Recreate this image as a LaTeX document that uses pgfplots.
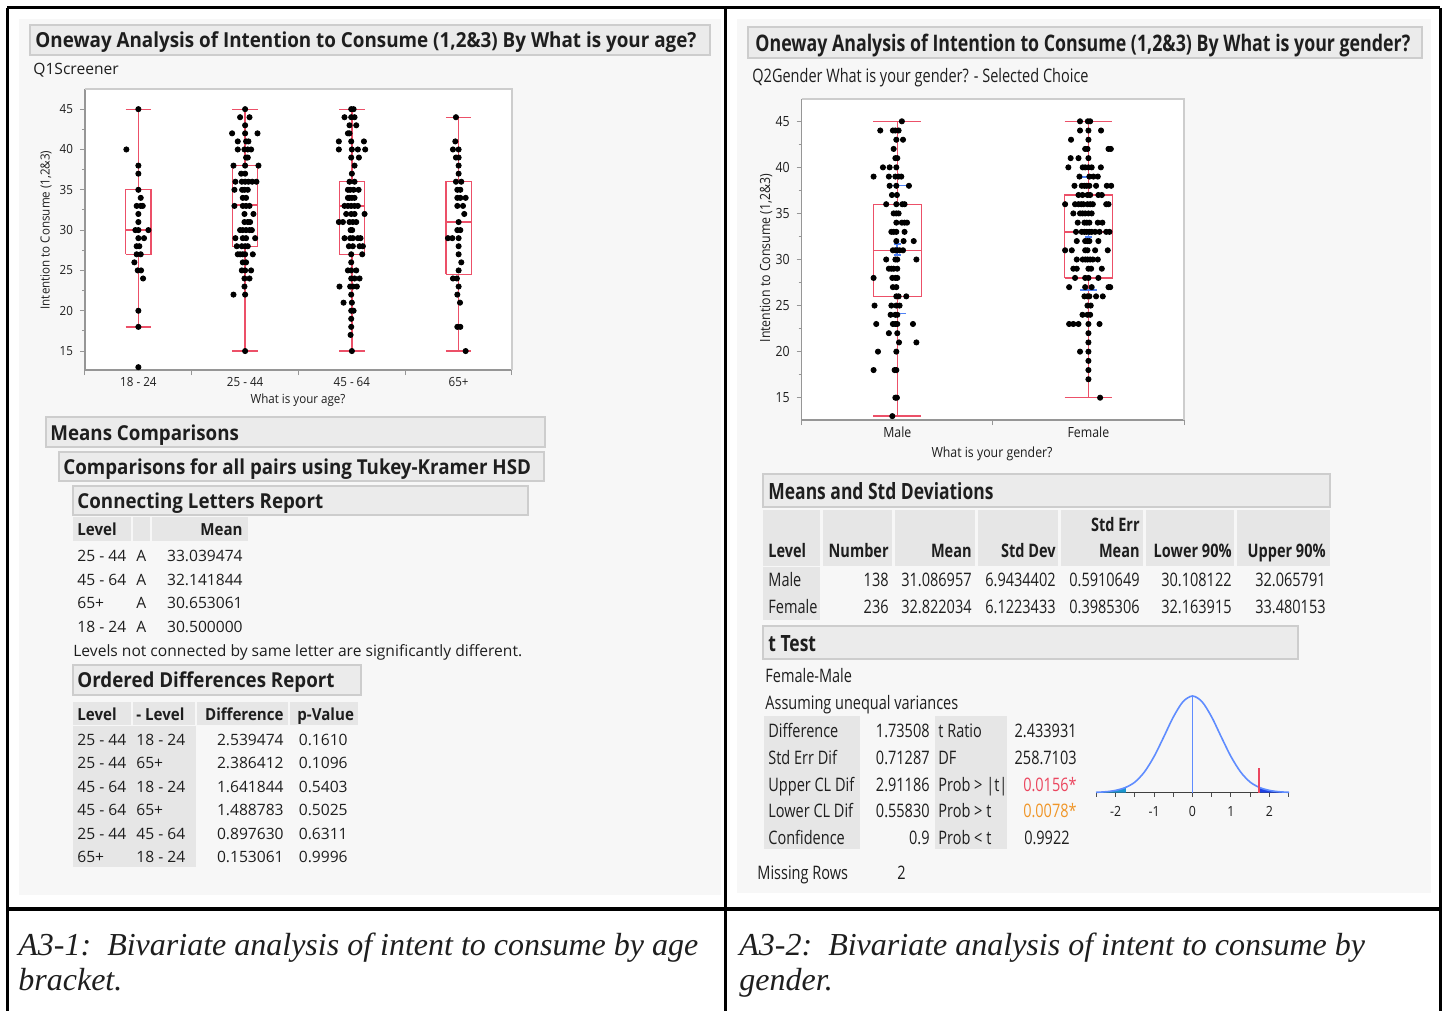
\documentclass[border=0pt]{standalone}
\usepackage{fontspec}
\usepackage{pgfplots}
\pgfplotsset{compat=1.18}
\setmainfont{Open Sans}
\newfontfamily\Lbf[FakeStretch=0.91]{Open Sans}
\newfontfamily\Rff[FakeStretch=0.78]{Open Sans}
\newfontfamily\Plf[FakeStretch=0.92]{Open Sans}
\newfontfamily\Prf[FakeStretch=0.88]{Open Sans}
\newfontfamily\Cff{Liberation Serif}
\definecolor{panel}{RGB}{247,247,247}
\definecolor{hdr}{RGB}{235,235,235}
\definecolor{hdrline}{RGB}{205,205,205}
\definecolor{cell}{RGB}{230,230,230}
\definecolor{boxred}{RGB}{236,80,104}
\definecolor{mblue}{RGB}{80,130,245}
\definecolor{curve}{RGB}{95,140,255}
\definecolor{ltail}{RGB}{25,150,205}
\definecolor{rtail}{RGB}{30,65,230}
\definecolor{sigred}{RGB}{235,70,95}
\definecolor{sigor}{RGB}{240,150,40}
\definecolor{axgray}{RGB}{150,150,150}
\definecolor{frgray}{RGB}{205,205,205}
\definecolor{txt}{RGB}{30,30,30}
\newcommand\lbody{\fontsize{7.8}{9}\selectfont}
\newcommand\lhead{\Lbf\bfseries\fontsize{10.3}{12}\selectfont}
\newcommand\lth{\Lbf\bfseries\fontsize{8.3}{10}\selectfont}
\newcommand\ltitle{\Lbf\bfseries\fontsize{10.35}{12}\selectfont}
\newcommand\rbody{\Rff\fontsize{9.3}{11}\selectfont}
\newcommand\rhead{\Rff\bfseries\fontsize{11.2}{13}\selectfont}
\newcommand\rth{\Rff\bfseries\fontsize{9.3}{11}\selectfont}
\newcommand\rtitle{\Rff\bfseries\fontsize{11.4}{13}\selectfont}
\newcommand\plfont{\Plf\fontsize{6.3}{7.5}\selectfont}
\newcommand\prfont{\Prf\fontsize{7}{8.5}\selectfont}
\newcommand\capt{\Cff\itshape\fontsize{16}{19}\selectfont}
\tikzset{t/.style={inner sep=0pt, anchor=base west, text=txt},
         tr/.style={inner sep=0pt, anchor=base east, text=txt},
         hbox/.style={fill=hdr, draw=hdrline, line width=0.6pt}}
\pgfplotsset{
  jmp/.style={scale only axis, clip=false, axis line style={draw=none},
    axis background/.style={fill=white},
    xtick pos=bottom, ytick pos=left,
    tick align=outside, major tick length=2.5pt, minor tick length=1.5pt,
    tick style={axgray, line width=0.5pt},
    /pgf/number format/assume math mode=true,
    extra x tick style={major tick length=0pt}},
}
% box: #1 left, #2 centre, #3 right, #4 lower whisker, #5 Q1, #6 median, #7 Q3, #8 upper whisker
\newcommand\jbox[8]{%
\addplot[boxred, line width=0.65pt, line join=miter] coordinates {(#1,#5)(#3,#5)(#3,#7)(#1,#7)(#1,#5)};
\addplot[boxred, line width=0.65pt] coordinates {(#1,#6)(#3,#6)};
\addplot[boxred, line width=0.65pt] coordinates {(#2,#7)(#2,#8)};
\addplot[boxred, line width=0.65pt] coordinates {(#2,#5)(#2,#4)};
\addplot[boxred, line width=0.65pt] coordinates {(#1,#8)(#3,#8)};
\addplot[boxred, line width=0.65pt] coordinates {(#1,#4)(#3,#4)};
}
\begin{document}
\begin{tikzpicture}[x=0.5pt,y=-0.5pt]
\path[use as bounding box] (0,0) rectangle (1445,1011);
\fill[panel] (19,19) rectangle (721,895);
\fill[panel] (737,19) rectangle (1431,893);
% ---------------- LEFT PANEL ----------------
\draw[hbox] (30,25) rectangle (710,55);
\node[t] at (35,47.3) {\ltitle Oneway Analysis of Intention to Consume (1,2\&3) By What is your age?};
\node[t] at (33,74.5) {\lbody Q1Screener};
\coordinate (LP) at (85,370);
\begin{axis}[jmp, at={(LP)}, anchor=south west, width=213.5pt, height=140.5pt,
  xmin=0, xmax=4, ymin=12.65, ymax=47.5,
  xtick={0,1,2,3,4}, xticklabels={},
  extra x ticks={0.5,1.5,2.5,3.5}, extra x tick labels={18 - 24,25 - 44,45 - 64,65+},
  ytick={15,20,25,30,35,40,45}, minor y tick num=1,
  tick label style={font=\plfont, text=txt}]
\draw[axgray, line width=0.6pt] (rel axis cs:0,1) -- (rel axis cs:0,0) -- (rel axis cs:1,0);
\draw[frgray, line width=0.6pt] (rel axis cs:0,1) -- (rel axis cs:1,1) -- (rel axis cs:1,0);
\jbox{0.381}{0.5}{0.619}{18}{27}{30}{35}{45}
\jbox{1.381}{1.5}{1.619}{15}{28}{33.1}{38}{45}
\jbox{2.381}{2.5}{2.619}{15}{27}{33}{36}{45}
\jbox{3.381}{3.5}{3.619}{15}{24.5}{31}{36}{44}
\addplot[only marks, mark=*, mark size=1.3pt, black] coordinates {
(0.5,45)(0.3875,40)(0.5,38)(0.5,37)(0.5,35)(0.522,34)(0.484,33)(0.522,33)(0.541,33)(0.5,32)(0.5,31)(0.472,30)(0.5,30)(0.594,30)(0.5,29)(0.553,29)(0.484,28)(0.509,28)(0.484,27)(0.522,27)(0.4625,26)(0.494,25)(0.525,25)(0.544,24)(0.5,20)(0.5,18)(0.5,13)
(1.5,45)(1.453,44)(1.541,44)(1.5,43)(1.378,42)(1.5,42)(1.616,42)(1.431,41)(1.509,41)(1.531,41)(1.431,40)(1.494,40)(1.525,40)(1.556,40)(1.509,39)(1.525,39)(1.391,38)(1.5,38)(1.625,38)(1.463,37)(1.5,37)
(1.409,36)(1.469,36)(1.5,36)(1.531,36)(1.566,36)(1.606,36)(1.4,35)(1.472,35)(1.494,35)(1.525,35)(1.478,34)(1.509,34)(1.4,33)(1.478,33)(1.509,33)(1.541,33)(1.494,32)(1.578,32)(1.494,31)(1.525,31)(1.547,31)
(1.453,30)(1.478,30)(1.509,30)(1.541,30)(1.563,30)(1.409,29)(1.478,29)(1.509,29)(1.594,29)(1.422,28)(1.469,28)(1.5,28)(1.525,28)(1.431,27)(1.453,27)(1.478,27)(1.5,27)(1.572,27)(1.478,26)(1.509,26)
(1.469,25)(1.5,25)(1.556,25)(1.494,24)(1.541,24)(1.494,23)(1.391,22)(1.5,22)(1.5,15)
(2.494,45)(2.516,45)(2.431,44)(2.494,44)(2.525,44)(2.478,43)(2.541,43)(2.463,42)(2.478,42)(2.378,41)(2.494,41)(2.613,41)(2.378,40)(2.5,40)(2.556,40)(2.625,40)(2.494,39)(2.566,39)(2.525,38)(2.5,37)(2.478,36)(2.525,36)
(2.463,35)(2.484,35)(2.516,35)(2.563,35)(2.463,34)(2.478,34)(2.5,34)(2.525,34)(2.431,33)(2.463,33)(2.494,33)(2.525,33)(2.556,33)(2.447,32)(2.494,32)(2.525,32)(2.619,32)(2.378,31)(2.416,31)(2.478,31)(2.509,31)(2.541,31)
(2.488,30)(2.503,30)(2.431,29)(2.484,29)(2.509,29)(2.556,29)(2.581,29)(2.472,28)(2.509,28)(2.572,28)(2.603,28)(2.494,27)(2.597,27)(2.494,26)(2.463,25)(2.494,25)(2.541,25)(2.494,24)(2.525,24)(2.572,24)
(2.384,23)(2.484,23)(2.509,23)(2.547,23)(2.494,22)(2.422,21)(2.5,21)(2.494,20)(2.516,20)(2.494,19)(2.494,18)(2.488,17)(2.5,15)
(3.475,44)(3.469,41)(3.447,40)(3.5,40)(3.475,39)(3.5,39)(3.5,38)(3.5,37)(3.475,36)(3.525,36)(3.488,35)(3.516,35)(3.488,34)(3.516,34)(3.566,34)(3.488,33)(3.541,33)(3.553,32)(3.5,31)(3.488,30)(3.516,30)
(3.4,29)(3.441,29)(3.5,29)(3.5,28)(3.5,27)(3.525,26)(3.5,25)(3.447,24)(3.484,24)(3.5,23)(3.488,22)(3.513,21)(3.488,18)(3.516,18)(3.566,15)
};
\end{axis}
\node[rotate=90, inner sep=0pt, text=txt] at (46,230) {\plfont Intention to Consume (1,2\&3)};
\node[inner sep=0pt, text=txt] at (298,400) {\plfont What is your age?};
\draw[hbox] (46,417) rectangle (545,447);
\node[t] at (50,440.3) {\lhead Means Comparisons};
\draw[hbox] (59,452) rectangle (544,481);
\node[t] at (63,474.3) {\lhead Comparisons for all pairs using Tukey-Kramer HSD};
\draw[hbox] (73,486) rectangle (528,515);
\node[t] at (77,508.3) {\lhead Connecting Letters Report};
\fill[cell] (73,517) rectangle (131,541);
\fill[cell] (133,517) rectangle (150,541);
\fill[cell] (152,517) rectangle (248,541);
\node[t] at (77,535.5) {\lth Level};
\node[tr] at (243,535.5) {\lth Mean};
\node[t] at (77,561.5) {\lbody 25 - 44};\node[t] at (136,561.5) {\lbody A};\node[tr] at (243,561.5) {\lbody 33.039474};
\node[t] at (77,585) {\lbody 45 - 64};\node[t] at (136,585) {\lbody A};\node[tr] at (243,585) {\lbody 32.141844};
\node[t] at (77,608.5) {\lbody 65+};\node[t] at (136,608.5) {\lbody A};\node[tr] at (243,608.5) {\lbody 30.653061};
\node[t] at (77,632) {\lbody 18 - 24};\node[t] at (136,632) {\lbody A};\node[tr] at (243,632) {\lbody 30.500000};
\node[t] at (73,656.5) {\lbody Levels not connected by same letter are significantly different.};
\draw[hbox] (73,665) rectangle (361,695);
\node[t] at (77,687.3) {\lhead Ordered Differences Report};
\fill[cell] (73,702) rectangle (131,725);
\fill[cell] (133,702) rectangle (195,725);
\fill[cell] (197,702) rectangle (288,725);
\fill[cell] (290,702) rectangle (358,725);
\fill[cell] (73,726) rectangle (196,867);
\node[t] at (77,720) {\lth Level};
\node[t] at (136,720) {\lth - Level};
\node[tr] at (284,720) {\lth Difference};
\node[t] at (297,720) {\lth p-Value};
\foreach \y/\a/\b/\d/\p in {745.5/25 - 44/18 - 24/2.539474/0.1610, 768.5/25 - 44/65+/2.386412/0.1096, 792.5/45 - 64/18 - 24/1.641844/0.5403, 815.5/45 - 64/65+/1.488783/0.5025, 839.5/25 - 44/45 - 64/0.897630/0.6311, 862.5/65+/18 - 24/0.153061/0.9996}{
  \node[t] at (77,\y) {\lbody \a};
  \node[t] at (136,\y) {\lbody \b};
  \node[tr] at (284,\y) {\lbody \d};
  \node[tr] at (348,\y) {\lbody \p};
}
% ---------------- RIGHT PANEL ----------------
\draw[hbox] (748,27) rectangle (1422,58);
\node[t] at (755,51.2) {\rtitle Oneway Analysis of Intention to Consume (1,2\&3) By What is your gender?};
\node[t] at (752,82.6) {\rbody Q2Gender What is your gender? - Selected Choice};
\coordinate (RP) at (801.7,420);
\begin{axis}[jmp, at={(RP)}, anchor=south west, width=191.15pt, height=160.5pt,
  xmin=0, xmax=2, ymin=12.58, ymax=47.42,
  xtick={0,1,2}, xticklabels={},
  extra x ticks={0.5,1.5}, extra x tick labels={Male,Female},
  ytick={15,20,25,30,35,40,45}, minor y tick num=1,
  tick label style={font=\prfont, text=txt}]
\draw[axgray, line width=0.6pt] (rel axis cs:0,1) -- (rel axis cs:0,0) -- (rel axis cs:1,0);
\draw[frgray, line width=0.6pt] (rel axis cs:0,1) -- (rel axis cs:1,1) -- (rel axis cs:1,0);
\jbox{0.375}{0.5}{0.625}{13}{26}{31}{36}{45}
\jbox{1.375}{1.5}{1.625}{15}{28}{33}{37}{45}
\addplot[only marks, mark=*, mark size=1.3pt, black] coordinates {
(0.524,45)(0.411,44)(0.477,44)(0.49,44)(0.507,44)(0.495,43)(0.53,43)(0.481,42)(0.49,41)(0.5,41)(0.425,40)(0.46,40)(0.495,40)(0.376,39)(0.456,39)(0.49,39)(0.507,39)(0.521,39)(0.46,38)(0.495,38)(0.561,38)(0.472,37)(0.498,37)
(0.442,36)(0.495,36)(0.526,36)(0.538,36)(0.481,35)(0.495,35)(0.507,35)(0.495,34)(0.524,34)(0.538,34)(0.551,34)(0.469,33)(0.481,33)(0.495,33)(0.538,33)(0.495,32)(0.533,32)(0.586,32)
(0.477,31)(0.49,31)(0.5,31)(0.512,31)(0.53,31)(0.442,30)(0.49,30)(0.5,30)(0.6,30)(0.456,29)(0.469,29)(0.481,29)(0.5,29)(0.376,28)(0.474,28)(0.49,28)(0.5,28)(0.477,27)(0.495,27)(0.495,26)(0.507,26)(0.547,26)
(0.381,25)(0.469,25)(0.495,25)(0.512,25)(0.465,24)(0.49,24)(0.5,24)(0.39,23)(0.477,23)(0.49,23)(0.5,23)(0.582,23)(0.456,22)(0.5,22)(0.509,21)(0.6,21)(0.399,20)(0.495,20)(0.376,18)(0.486,18)(0.495,18)(0.49,15)(0.498,15)(0.474,13)
(1.456,45)(1.497,45)(1.509,45)(1.456,44)(1.5,44)(1.566,44)(1.409,43)(1.5,43)(1.483,42)(1.495,42)(1.605,42)(1.617,42)(1.407,41)(1.448,41)(1.5,41)(1.395,40)(1.47,40)(1.483,40)(1.5,40)(1.517,40)(1.565,40)
(1.453,39)(1.505,39)(1.526,39)(1.549,39)(1.427,38)(1.465,38)(1.479,38)(1.491,38)(1.505,38)(1.54,38)(1.596,38)(1.619,38)(1.448,37)(1.469,37)(1.495,37)(1.509,37)(1.552,37)(1.57,37)
(1.378,36)(1.43,36)(1.448,36)(1.462,36)(1.474,36)(1.495,36)(1.509,36)(1.523,36)(1.593,36)(1.605,36)(1.421,35)(1.456,35)(1.469,35)(1.483,35)(1.5,35)(1.517,35)(1.444,34)(1.479,34)(1.491,34)(1.505,34)(1.549,34)(1.573,34)
(1.435,33)(1.465,33)(1.479,33)(1.491,33)(1.505,33)(1.517,33)(1.535,33)(1.558,33)(1.593,33)(1.61,33)(1.439,32)(1.483,32)(1.495,32)(1.505,32)(1.552,32)(1.378,31)(1.413,31)(1.483,31)(1.495,31)(1.535,31)(1.601,31)
(1.439,30)(1.47,30)(1.483,30)(1.495,30)(1.509,30)(1.523,30)(1.549,30)(1.421,29)(1.439,29)(1.5,29)(1.514,29)(1.57,29)(1.43,28)(1.483,28)(1.5,28)(1.552,28)(1.399,27)(1.483,27)(1.517,27)(1.605,27)(1.614,27)
(1.479,26)(1.495,26)(1.505,26)(1.54,26)(1.575,26)(1.495,25)(1.512,25)(1.469,24)(1.495,24)(1.509,24)(1.399,23)(1.421,23)(1.448,23)(1.5,23)(1.558,23)(1.5,22)(1.5,21)(1.456,20)(1.5,20)(1.5,19)(1.5,18)(1.5,17)(1.561,15)
};
\addplot[mblue, line width=0.8pt] coordinates {(0.469,38.03)(0.547,38.03)};
\addplot[mblue, line width=0.8pt] coordinates {(0.46,24.14)(0.547,24.14)};
\addplot[mblue, line width=0.8pt] coordinates {(0.481,31.68)(0.521,31.68)};
\addplot[mblue, line width=0.8pt] coordinates {(0.481,30.50)(0.521,30.50)};
\addplot[mblue, line width=0.8pt] coordinates {(0.5,30.50)(0.5,31.68)};
\addplot[mblue, line width=0.8pt] coordinates {(1.456,38.94)(1.535,38.94)};
\addplot[mblue, line width=0.8pt] coordinates {(1.456,26.70)(1.544,26.70)};
\addplot[mblue, line width=0.8pt] coordinates {(1.48,33.22)(1.52,33.22)};
\addplot[mblue, line width=0.8pt] coordinates {(1.48,32.42)(1.52,32.42)};
\addplot[mblue, line width=0.8pt] coordinates {(1.5,32.42)(1.5,33.22)};
\end{axis}
\node[rotate=90, inner sep=0pt, text=txt] at (766,258) {\prfont Intention to Consume (1,2\&3)};
\node[inner sep=0pt, text=txt] at (992,454) {\prfont What is your gender?};
\draw[hbox] (763,474) rectangle (1330,507);
\node[t] at (768,499) {\rhead Means and Std Deviations};
\foreach \a/\b in {763/820, 823/892, 895/975, 978/1058, 1061/1143, 1146/1234, 1237/1330}{\fill[cell] (\a,510) rectangle (\b,566);}
\fill[cell] (763,567) rectangle (820,620);
\node[tr] at (1140,531.7) {\rth Std Err};
\node[t] at (768,557.7) {\rth Level};
\node[tr] at (889,557.7) {\rth Number};
\node[tr] at (972,557.7) {\rth Mean};
\node[tr] at (1056,557.7) {\rth Std Dev};
\node[tr] at (1140,557.7) {\rth Mean};
\node[tr] at (1232,557.7) {\rth Lower 90\%};
\node[tr] at (1326,557.7) {\rth Upper 90\%};
\foreach \y/\l/\n/\m/\s/\e/\lo/\up in {586.6/Male/138/31.086957/6.9434402/0.5910649/30.108122/32.065791, 613.6/Female/236/32.822034/6.1223433/0.3985306/32.163915/33.480153}{
  \node[t] at (768,\y) {\rbody \l};
  \node[tr] at (889,\y) {\rbody \n};
  \node[tr] at (972,\y) {\rbody \m};
  \node[tr] at (1056,\y) {\rbody \s};
  \node[tr] at (1140,\y) {\rbody \e};
  \node[tr] at (1232,\y) {\rbody \lo};
  \node[tr] at (1326,\y) {\rbody \up};
}
\draw[hbox] (763,626) rectangle (1298,659);
\node[t] at (768,651) {\rhead t Test};
\node[t] at (765,682.6) {\rbody Female-Male};
\node[t] at (765,709.6) {\rbody Assuming unequal variances};
\fill[cell] (764,716) rectangle (860,849);
\fill[cell] (935,716) rectangle (1007,849);
\node[t] at (768,737.6) {\rbody Difference};   \node[tr] at (930,737.6) {\rbody 1.73508};
\node[t] at (768,764.6) {\rbody Std Err Dif};  \node[tr] at (930,764.6) {\rbody 0.71287};
\node[t] at (768,791.1) {\rbody Upper CL Dif}; \node[tr] at (930,791.1) {\rbody 2.91186};
\node[t] at (768,817.6) {\rbody Lower CL Dif}; \node[tr] at (930,817.6) {\rbody 0.55830};
\node[t] at (768,844.6) {\rbody Confidence};   \node[tr] at (930,844.6) {\rbody 0.9};
\node[t] at (938,737.6) {\rbody t Ratio};     \node[tr] at (1077,737.6) {\rbody 2.433931};
\node[t] at (938,764.6) {\rbody DF};          \node[tr] at (1077,764.6) {\rbody 258.7103};
\node[t] at (938,791.1) {\rbody Prob > |t|};  \node[tr] at (1077,791.1) {\rbody\color{sigred} 0.0156*};
\node[t] at (938,817.6) {\rbody Prob > t};    \node[tr] at (1077,817.6) {\rbody\color{sigor} 0.0078*};
\node[t] at (938,844.6) {\rbody Prob < t};    \node[tr] at (1070,844.6) {\rbody 0.9922};
\node[t] at (757,879.6) {\rbody Missing Rows};
\node[t] at (897,879.6) {\rbody 2};
\coordinate (NP) at (1096,792.7);
\begin{axis}[at={(NP)}, anchor=south west, scale only axis, width=96.5pt, height=48.35pt, clip=false,
  xmin=-2.51, xmax=2.51, ymin=0, ymax=1,
  axis y line=none, axis x line*=bottom,
  x axis line style={black!75, line width=0.7pt, -},
  xtick={-2,-1,0,1,2}, xticklabels={-2,-1,0,1,2}, minor xtick={-2.5,-1.5,-0.5,0.5,1.5,2.5},
  tick align=outside, major tick length=2pt, minor tick length=2pt,
  tick style={black!70, line width=0.5pt},
  tick label style={font=\prfont, text=txt}, xticklabel style={yshift=-1.5pt}]
\addplot[fill=ltail, draw=none] coordinates {(-2.51,0)(-2.51,0.004)(-2.25,0.01)(-2,0.024)(-1.735,0.055)(-1.735,0)} -- cycle;
\addplot[fill=rtail, draw=none] coordinates {(1.735,0)(1.735,0.055)(2,0.024)(2.25,0.01)(2.51,0.004)(2.51,0)} -- cycle;
\addplot[curve, line width=0.8pt, smooth] coordinates {(-2.51,0.004)(-2.25,0.01)(-2,0.024)(-1.75,0.053)(-1.5,0.1093)(-1.25,0.215)(-1,0.374)(-0.75,0.575)(-0.5,0.782)(-0.25,0.94)(0,1)(0.25,0.94)(0.5,0.782)(0.75,0.575)(1,0.374)(1.25,0.215)(1.5,0.1093)(1.75,0.053)(2,0.024)(2.25,0.01)(2.51,0.004)};
\addplot[curve, line width=0.8pt] coordinates {(0,0)(0,1)};
\addplot[sigred, line width=0.8pt] coordinates {(1.735,0)(1.735,0.255)};
\end{axis}
% ---------------- CAPTIONS & FRAME ----------------
\node[t] at (18,955) {\capt A3-1:\ \ Bivariate analysis of intent to consume by age};
\node[t] at (18,990) {\capt bracket.};
\node[t] at (739,955) {\capt A3-2:\ \ Bivariate analysis of intent to consume by};
\node[t] at (739,990) {\capt gender.};
\draw[line width=1.5pt] (7,8) -- (1440,8);
\draw[line width=1.5pt] (7,8) -- (7,1011);
\draw[line width=1.5pt] (1440,8) -- (1440,1011);
\draw[line width=1.5pt] (725,8) -- (725,1011);
\draw[line width=2pt] (7,909) -- (1440,909);
\end{tikzpicture}
\end{document}
